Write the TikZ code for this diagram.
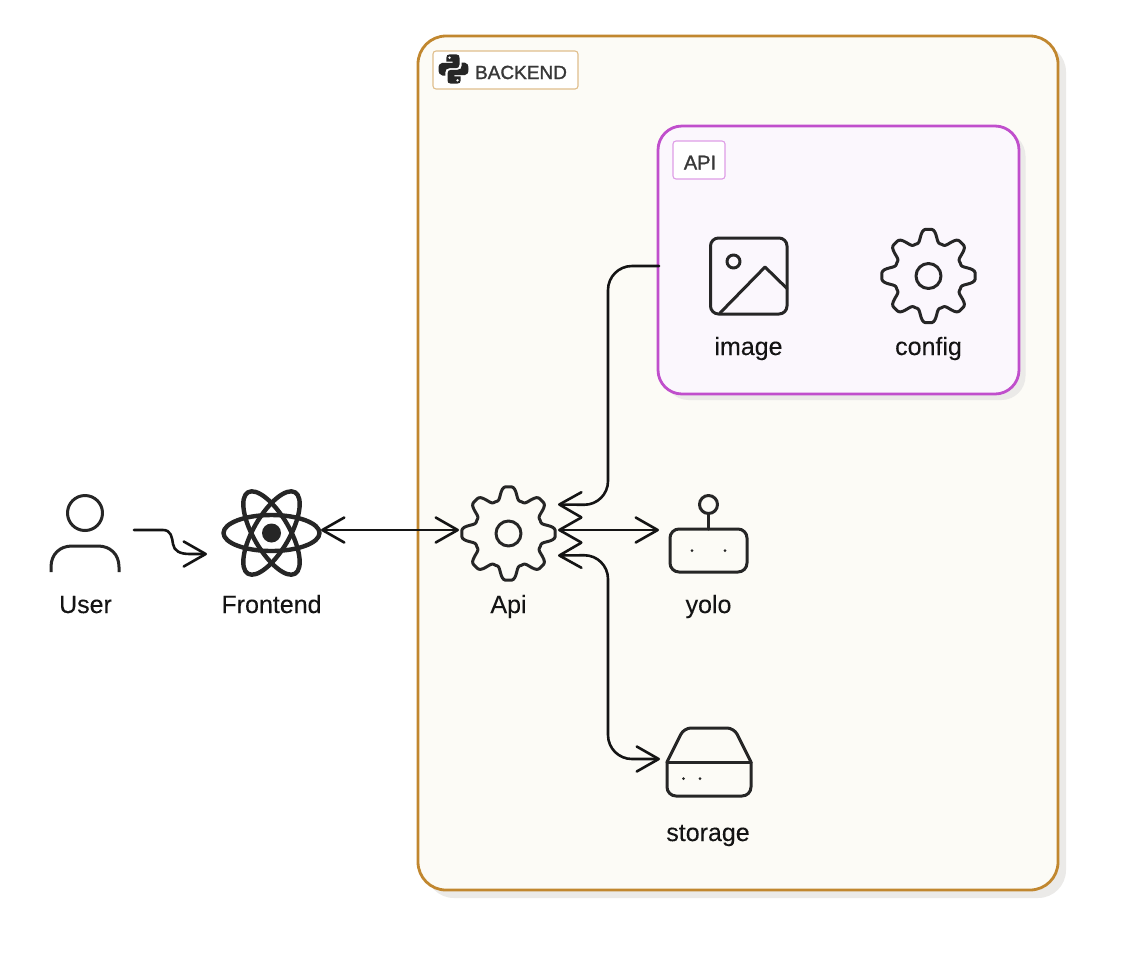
\documentclass[tikz,border=0pt]{standalone}
\usepackage{fontspec}
\setmainfont{Liberation Sans}
\usetikzlibrary{arrows.meta,calc}
\definecolor{ink}{HTML}{262626}
\definecolor{backstroke}{HTML}{C1872F}
\definecolor{backfill}{HTML}{FCFBF6}
\definecolor{backtag}{HTML}{E0BE8C}
\definecolor{apistroke}{HTML}{C04FCC}
\definecolor{apifill}{HTML}{FBF7FD}
\definecolor{apitag}{HTML}{DE9DE6}
\definecolor{shadowcol}{HTML}{EBEAE8}
\tikzset{
  x=1pt,y=-1pt,
  frameback/.style={draw=backstroke,fill=backfill,line width=2.8pt,rounded corners=28pt,minimum width=640pt,minimum height=854pt,outer sep=0pt},
  frameapi/.style={draw=apistroke,fill=apifill,line width=2.8pt,rounded corners=24pt,minimum width=361pt,minimum height=268pt,outer sep=0pt},
  fshadow/.style={fill=shadowcol,outer sep=0pt},
  tagbox/.style={line width=1.1pt,rounded corners=3pt,fill=white,outer sep=0pt,inner sep=0pt},
  tagtext/.style={text=black!78,inner sep=0pt,anchor=base},
  lbl/.style={font=\fontsize{25}{30}\selectfont\addfontfeature{FakeBold=0.15},text=black!92,inner sep=0pt,anchor=base},
  anchorbox/.style={inner sep=0pt,outer sep=0pt},
  icon/.style={draw=ink,line width=3pt,line cap=round,line join=round},
  wire/.style={draw=black!92,line width=2.6pt,line cap=round,line join=round},
  to tip/.style={-{Straight Barb[length=22pt,width=25pt,round]}},
  both tip/.style={{Straight Barb[length=22pt,width=25pt,round]}-{Straight Barb[length=22pt,width=25pt,round]}},
}
\newcommand{\geardraw}[2]{%
  \draw[icon,shift={(#1,#2)}] plot[variable=\t,domain=0:358,samples=180] ({(40.5+7.2*cos(8*\t)-1.0*cos(24*\t))*cos(\t)},{(40.5+7.2*cos(8*\t)-1.0*cos(24*\t))*sin(\t)}) -- cycle;
  \draw[icon,shift={(#1,#2)}] (0,0) circle (12.5);
}
\begin{document}
\begin{tikzpicture}
\useasboundingbox (0,0) rectangle (1123,954);
\fill[white] (0,0) rectangle (1123,954);

% backend frame
\node[fshadow,rounded corners=28pt,minimum width=640pt,minimum height=854pt] (backshadow) at (746,471) {};
\node[frameback] (backend) at (738,463) {};
\node[tagbox,draw=backtag,minimum width=145pt,minimum height=38pt] (backtagbox) at (505.5,70) {};
\node[tagtext,font=\fontsize{19}{23}\selectfont\addfontfeature{FakeBold=1.3}] (backtagtext) at (521,79) {BACKEND};
% python logo
\foreach \ang in {0,180}{
  \begin{scope}[shift={(453.5,69)},rotate=\ang,shift={(-15,-15)}]
    \fill[ink] (11.5,0.3) -- (17.5,0.3) .. controls (20.5,0.3) and (21,2) .. (21,3.8) -- (21,10.5)
      .. controls (21,13) and (19.5,14.2) .. (17.5,14.2) -- (11,14.2)
      .. controls (8,14.2) and (6.8,16) .. (6.8,18.5) -- (6.8,21.5) -- (3.8,21.5)
      .. controls (1,21.5) and (0,18.5) .. (0,15) .. controls (0,11.5) and (1,8.8) .. (3.8,8.8)
      -- (14.2,8.8) -- (14.2,7.6) -- (7.8,7.6) -- (7.8,3.8)
      .. controls (7.8,1.5) and (9,0.3) .. (11.5,0.3) -- cycle;
    \fill[white] (11,3.7) circle (1.3);
  \end{scope}
}

% api frame
\node[fshadow,rounded corners=24pt,minimum width=361pt,minimum height=268pt] (apishadow) at (845,266) {};
\node[frameapi] (apibox) at (838.5,260) {};
\node[tagbox,draw=apitag,minimum width=52pt,minimum height=38pt] (apitagbox) at (699,160) {};
\node[tagtext,font=\fontsize{20}{24}\selectfont\addfontfeature{FakeBold=1.3}] (apitagtext) at (700,169.5) {API};

% icon anchor nodes
\node[anchorbox,minimum width=98pt,minimum height=50pt] (user) at (85,530) {};
\node[anchorbox,minimum width=100pt,minimum height=50pt] (frontend) at (271,530) {};
\node[anchorbox,minimum width=99pt,minimum height=51pt] (api) at (508.5,530) {};
\node[anchorbox,minimum width=98pt,minimum height=50pt] (yolo) at (708,530) {};
\node[anchorbox,minimum width=96pt,minimum height=50pt] (storage) at (708,759) {};
\coordinate (frontin) at ($(frontend.west)+(-14,24)$);
\coordinate (apiport) at ($(apibox.west)+(1,6)$);
\coordinate (bustop) at (608,505);
\coordinate (busbot) at (608,555);
\coordinate (wiga) at (163,530);
\coordinate (wigb) at (173,544);
\coordinate (wigc) at (190,554);

% user icon
\draw[icon] (85,513) circle (17.5);
\draw[icon,line cap=butt] (51,572) -- (51,567) .. controls (51,554) and (60,546) .. (72,546) -- (98,546) .. controls (110,546) and (119,554) .. (119,567) -- (119,572);
% react icon
\begin{scope}[shift={(271.5,533)}]
  \draw[icon,line width=4.4pt] (0,0) ellipse (48 and 18);
  \foreach \ang in {60,120}{
    \draw[icon,line width=4.4pt,rotate=\ang] (0,0) ellipse (47 and 18);
  }
  \fill[ink] (0,0) circle (9.5);
\end{scope}
% gears
\geardraw{508.5}{533.5}
\geardraw{928.5}{276}
% yolo icon
\draw[icon,rounded corners=9pt] (670,529) rectangle (747,572);
\draw[icon] (708.5,529) -- (708.5,514);
\draw[icon] (708.5,504.5) circle (9);
\fill[ink] (692,550.5) circle (1.5) (725,550.5) circle (1.5);
% storage icon
\draw[icon,rounded corners=9pt] (667,762) -- (667,796) -- (751,796) -- (751,762);
\draw[icon] (667,762) -- (751,762);
\draw[icon,rounded corners=7pt] (667,762) -- (684,728) -- (734,728) -- (751,762);
\fill[ink] (683.5,778.5) circle (1.5) (700,778.5) circle (1.5);
% image icon
\draw[icon,rounded corners=8pt] (710.5,238) rectangle (787,314);
\draw[icon] (733.5,261.5) circle (6.5);
\draw[icon] (720,313) -- (765,267) -- (787,288.5);

% labels
\node[lbl] (userlbl) at (85.5,613) {User};
\node[lbl] (frontlbl) at (271.5,613) {Frontend};
\node[lbl] (apilbl) at (508.5,613) {Api};
\node[lbl] (yololbl) at (708.5,613) {yolo};
\node[lbl] (storagelbl) at (708,841) {storage};
\node[lbl] (imagelbl) at (748.5,355) {image};
\node[lbl] (configlbl) at (928.5,355) {config};

% connectors
\draw[wire,to tip] (user.east) -- (wiga) .. controls (171,530) and (172,537) .. (wigb) .. controls (174,551) and (180,554) .. (wigc) -- (frontin);
\draw[wire,both tip] (frontend.east) -- (api.west);
\draw[wire,to tip,rounded corners=24pt] (apiport) -| (bustop) -- (api.north east);
\draw[wire,both tip] (api.east) -- (yolo.west);
\draw[wire,both tip,rounded corners=24pt] (api.south east) -- (busbot) |- (storage.west);
\end{tikzpicture}
\end{document}
